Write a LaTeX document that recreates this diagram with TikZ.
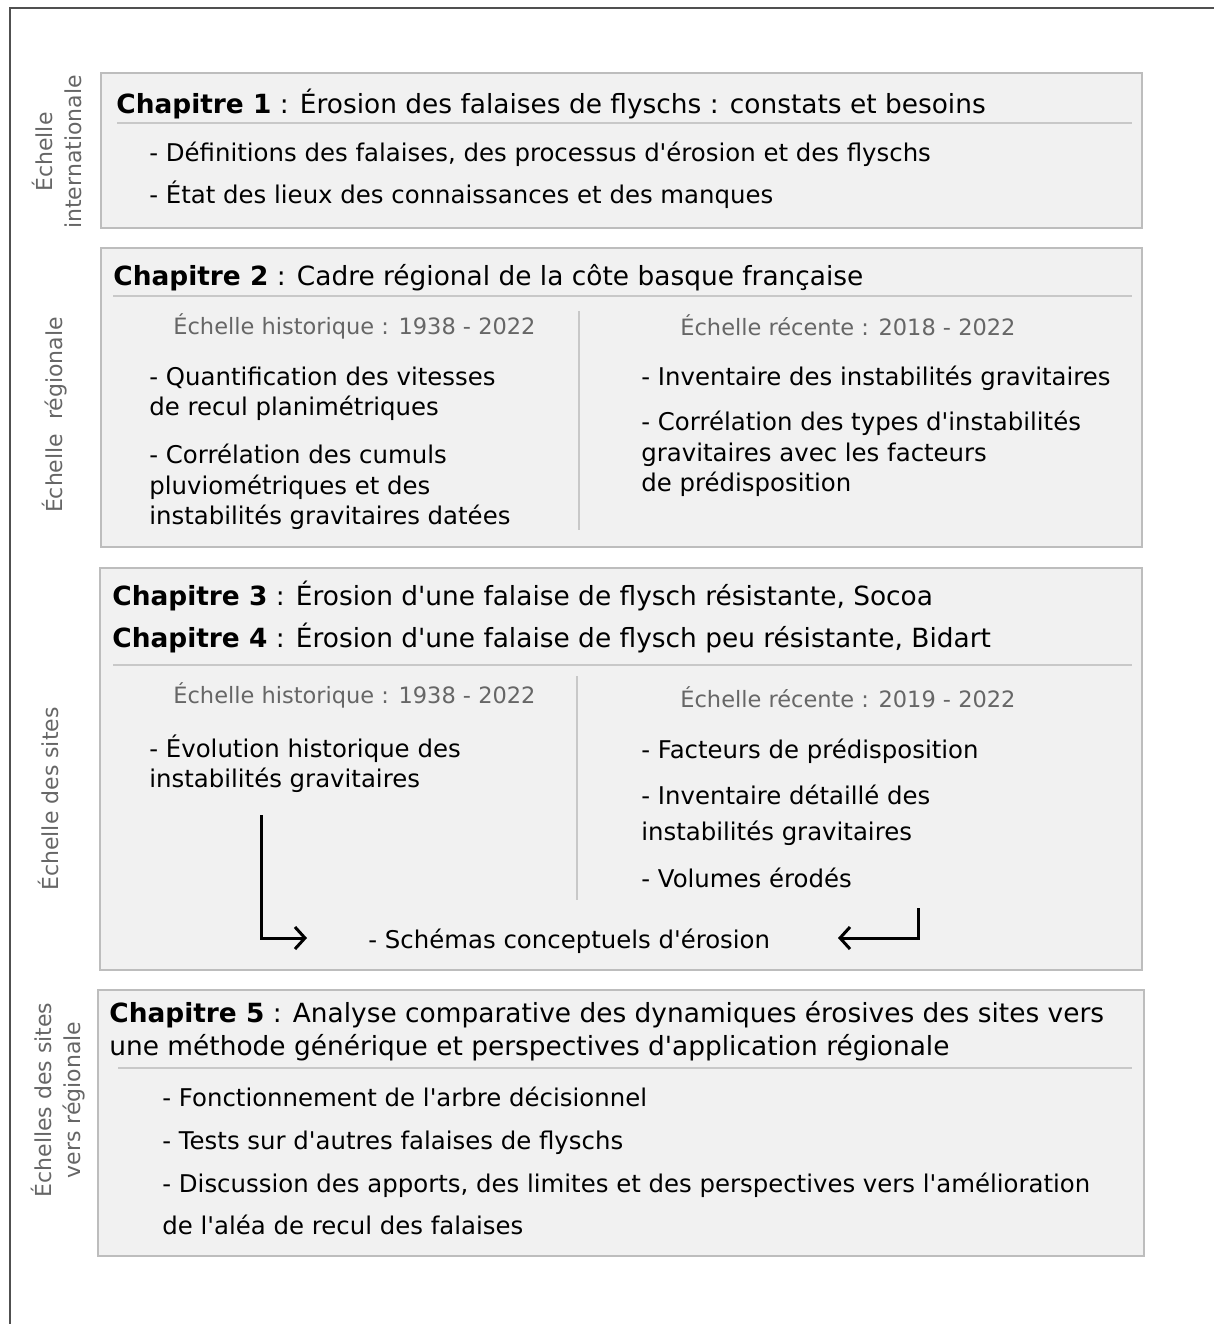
\documentclass[tikz,border=0pt]{standalone}
\usepackage{fontspec}
\setmainfont{DejaVu Sans}
\usetikzlibrary{arrows.meta}
\definecolor{boxfill}{HTML}{F1F1F1}
\definecolor{boxline}{HTML}{BDBDBD}
\definecolor{rulegray}{HTML}{C8C8C8}
\definecolor{scalegray}{HTML}{666666}
\definecolor{framegray}{HTML}{505050}
\newcommand{\ap}{\textquotesingle}

\begin{document}
\begin{tikzpicture}[x=0.5pt,y=-0.5pt,
	chapbox/.style={draw=boxline, line width=1pt, fill=boxfill},
	sepline/.style={draw=rulegray, line width=1pt},
	txt/.style={anchor=base west, inner sep=0pt, font=\fontsize{12.2}{15}\selectfont},
	head/.style={anchor=base west, inner sep=0pt, font=\fontsize{13.2}{16}\selectfont},
	period/.style={anchor=base west, inner sep=0pt, text=scalegray, font=\fontsize{11.25}{14}\selectfont},
	scalelab/.style={rotate=90, align=center, inner sep=0pt, text=scalegray, font=\fontsize{11}{14.5}\selectfont},
	flow/.style={line width=1.5pt, -{Straight Barb[length=5pt,width=11pt,line width=1.5pt]}}]
			%%%%% START %%%%%
			\useasboundingbox (0,0) rectangle (1214,1324);
			
			\draw[framegray, line width=1.2pt] (10,1324) -- (10,8) -- (1214,8);
			
			% echelles
			\node[scalelab] (intl) at (57,152) {Échelle\\internationale};
			\node[scalelab] (regio) at (55,415) {Échelle\ \ régionale};
			\node[scalelab] (sites) at (48,799) {Échelle des sites};
			\node[scalelab] (versreg) at (58,1100) {Échelles des sites\\vers régionale};
			
			% chapitre 1
			\draw[chapbox] (101,73) rectangle (1142,228);
			\node[head] (ch1) at (116,113) {\textbf{Chapitre 1} : Érosion des falaises de flyschs : constats et besoins};
			\draw[sepline] (117,123) -- (1132,123);
			\node[txt] (ch1a) at (149,161) {- Définitions des falaises, des processus d\ap érosion et des flyschs};
			\node[txt] (ch1b) at (149,203) {- État des lieux des connaissances et des manques};
			
			% chapitre 2
			\draw[chapbox] (101,248) rectangle (1142,547);
			\node[head] (ch2) at (113,285) {\textbf{Chapitre 2} : Cadre régional de la côte basque française};
			\draw[sepline] (113,296) -- (1132,296);
			\draw[sepline] (579,311) -- (579,530);
			\node[period] (ch2hist) at (173,334) {Échelle historique : 1938 - 2022};
			\node[period] (ch2rec) at (680,335) {Échelle récente : 2018 - 2022};
			\node[txt] (ch2a) at (149,385) {- Quantification des vitesses};
			\node[txt] (ch2a2) at (149,415) {de recul planimétriques};
			\node[txt] (ch2b) at (149,463) {- Corrélation des cumuls};
			\node[txt] (ch2b2) at (149,494) {pluviométriques et des};
			\node[txt] (ch2b3) at (149,524) {instabilités gravitaires datées};
			\node[txt] (ch2c) at (641,385) {- Inventaire des instabilités gravitaires};
			\node[txt] (ch2d) at (641,430) {- Corrélation des types d\ap instabilités};
			\node[txt] (ch2d2) at (641,461) {gravitaires avec les facteurs};
			\node[txt] (ch2d3) at (641,491) {de prédisposition};
			
			% chapitres 3 et 4
			\draw[chapbox] (100,568) rectangle (1142,970);
			\node[head] (ch3) at (112,605) {\textbf{Chapitre 3} : Érosion d\ap une falaise de flysch résistante, Socoa};
			\node[head] (ch4) at (112,647) {\textbf{Chapitre 4} : Érosion d\ap une falaise de flysch peu résistante, Bidart};
			\draw[sepline] (113,665) -- (1132,665);
			\draw[sepline] (577,676) -- (577,900);
			\node[period] (ch34hist) at (173,703) {Échelle historique : 1938 - 2022};
			\node[period] (ch34rec) at (680,707) {Échelle récente : 2019 - 2022};
			\node[txt] (ch34a) at (149,757) {- Évolution historique des};
			\node[txt] (ch34a2) at (149,787) {instabilités gravitaires};
			\node[txt] (ch34b) at (641,758) {- Facteurs de prédisposition};
			\node[txt] (ch34c) at (641,804) {- Inventaire détaillé des};
			\node[txt] (ch34c2) at (641,840) {instabilités gravitaires};
			\node[txt] (ch34d) at (641,887) {- Volumes érodés};
			\node[txt] (schemas) at (368,948) {- Schémas conceptuels d\ap érosion};
			
			\coordinate (histstart) at (261,815);
			\coordinate (histend) at (307,938);
			\coordinate (recstart) at (918,908);
			\coordinate (recend) at (838,938);
			\draw[flow] (histstart) |- (histend);
			\draw[flow] (recstart) |- (recend);
			
			% chapitre 5
			\draw[chapbox] (98,990) rectangle (1144,1256);
			\node[head] (ch5) at (109,1022) {\textbf{Chapitre 5} : Analyse comparative des dynamiques érosives des sites vers};
			\node[head] (ch5b) at (109,1055) {une méthode générique et perspectives d\ap application régionale};
			\draw[sepline] (118,1068) -- (1132,1068);
			\node[txt] (ch5c) at (162,1106) {- Fonctionnement de l\ap arbre décisionnel};
			\node[txt] (ch5d) at (162,1149) {- Tests sur d\ap autres falaises de flyschs};
			\node[txt] (ch5e) at (162,1192) {- Discussion des apports, des limites et des perspectives vers l\ap amélioration};
			\node[txt] (ch5f) at (162,1234) {de l\ap aléa de recul des falaises};
			
			%%%%% END %%%%%
\end{tikzpicture}
\end{document}
